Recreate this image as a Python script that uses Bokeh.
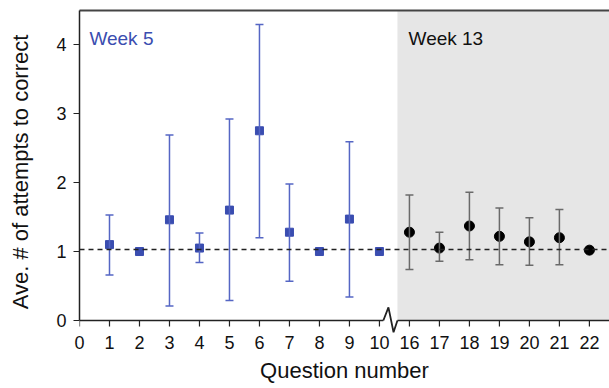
from bokeh.plotting import figure
from bokeh.models import (ColumnDataSource, Whisker, TeeHead, BoxAnnotation, Span,
                          Label, LinearAxis, Range1d, FixedTicker)
from bokeh.embed import file_html
from bokeh.resources import INLINE

# ---- data ----
week5_q = [1, 2, 3, 4, 5, 6, 7, 8, 9, 10]
week5_mean = [1.10, 1.00, 1.46, 1.05, 1.60, 2.75, 1.28, 1.00, 1.47, 1.00]
week5_upper = [1.53, None, 2.69, 1.27, 2.92, 4.29, 1.98, None, 2.59, None]
week5_lower = [0.66, None, 0.21, 0.84, 0.29, 1.20, 0.57, None, 0.34, None]

week13_q = [16, 17, 18, 19, 20, 21, 22]
week13_mean = [1.28, 1.05, 1.37, 1.22, 1.14, 1.20, 1.02]
week13_upper = [1.82, 1.28, 1.86, 1.63, 1.49, 1.61, None]
week13_lower = [0.74, 0.86, 0.88, 0.81, 0.80, 0.81, None]

tick_labels = ["0", "1", "2", "3", "4", "5", "6", "7", "8", "9", "10",
               "16", "17", "18", "19", "20", "21", "22"]
y_ticks = [0, 1, 2, 3, 4]
baseline = 1.03

# question number -> axis position (axis break between 10 and 16)
def pos(q):
    return q if q <= 10 else q - 5

X_END = 17.67
Y_TOP = 4.493
Y_BOTTOM = -0.188   # a little room below y=0 for ticks and the axis-break mark
BREAK_L, BREAK_R = 10.13, 10.6
TICK_LEN = 0.087    # ~6 px

FONT = "Liberation Sans"
BLUE = "#3a4db0"
BLUE_BAR = "#5566c4"
GRAY_BAR = "#6a6a6a"
AXIS = "#222222"

p = figure(width=609, height=388, output_backend="svg", toolbar_location=None,
           x_range=Range1d(0, X_END), y_range=Range1d(Y_BOTTOM, Y_TOP),
           min_border_left=79, min_border_right=0, min_border_top=10,
           min_border_bottom=55)
p.grid.visible = False
p.outline_line_color = None
p.background_fill_color = "white"

# shaded week 13 region
p.add_layout(BoxAnnotation(left=BREAK_R, bottom=0, fill_color="#e6e6e6", fill_alpha=1.0,
                           line_color=None, level="underlay"))

# baseline dashed line
p.add_layout(Span(location=baseline, dimension="width", line_color=AXIS,
                  line_dash="5 4", line_width=1.5))

def err_source(qs, up, lo):
    xs, us, ls = [], [], []
    for q, u, l in zip(qs, up, lo):
        if u is not None and l is not None:
            xs.append(pos(q)); us.append(u); ls.append(l)
    return ColumnDataSource(dict(x=xs, upper=us, lower=ls))

def whisker(src, color):
    return Whisker(source=src, base="x", upper="upper", lower="lower", dimension="height",
                   line_color=color, line_width=1.5, level="glyph",
                   upper_head=TeeHead(size=8, line_color=color, line_width=1.5),
                   lower_head=TeeHead(size=8, line_color=color, line_width=1.5))

p.add_layout(whisker(err_source(week5_q, week5_upper, week5_lower), BLUE_BAR))
p.add_layout(whisker(err_source(week13_q, week13_upper, week13_lower), GRAY_BAR))

p.scatter([pos(q) for q in week5_q], week5_mean, marker="square", size=8,
          fill_color=BLUE, line_color=BLUE)
p.scatter([pos(q) for q in week13_q], week13_mean, marker="circle", size=10,
          fill_color="black", line_color="black")

# x axis line (with break), tick marks and break zigzag, drawn at y = 0
tick_pos = list(range(len(tick_labels)))
p.segment(x0=[0, BREAK_R], y0=[0, 0], x1=[BREAK_L, X_END + 1], y1=[0, 0],
          line_color=AXIS, line_width=1.5)
p.segment(x0=tick_pos, y0=[0] * len(tick_pos), x1=tick_pos,
          y1=[-TICK_LEN] * len(tick_pos), line_color=AXIS, line_width=1.2)
p.line([BREAK_L, 10.3, 10.47, BREAK_R], [0, 0.19, -0.17, 0],
       line_color=AXIS, line_width=1.8)

# labels
p.add_layout(Label(x=0.33, y=4.09, text="Week 5", text_color=BLUE,
                   text_font=FONT, text_font_size="19px", text_baseline="alphabetic"))
p.add_layout(Label(x=10.97, y=4.09, text="Week 13", text_color="#111111",
                   text_font=FONT, text_font_size="19px", text_baseline="alphabetic"))

# axes styling
xa = p.xaxis[0]
xa.ticker = FixedTicker(ticks=tick_pos)
xa.major_label_overrides = {i: t for i, t in enumerate(tick_labels)}
xa.axis_label = "Question number"
xa.axis_line_color = None
xa.major_tick_line_color = None
xa.major_tick_in = 0
xa.major_tick_out = 0
xa.major_label_standoff = 2
xa.axis_label_standoff = 6

ya = p.yaxis[0]
ya.ticker = FixedTicker(ticks=y_ticks)
ya.axis_label = "Ave. # of attempts to correct"
ya.bounds = (0, Y_TOP)
ya.axis_line_color = AXIS
ya.axis_line_width = 1.5
ya.major_tick_in = 0
ya.major_tick_out = 6
ya.major_tick_line_color = AXIS
ya.major_tick_line_width = 1.2
ya.major_label_standoff = 7
ya.axis_label_standoff = 20

for ax in (xa, ya):
    ax.minor_tick_line_color = None
    ax.major_label_text_font = FONT
    ax.major_label_text_font_size = "18px"
    ax.major_label_text_color = "#111111"
    ax.axis_label_text_font = FONT
    ax.axis_label_text_font_size = "22px"
    ax.axis_label_text_font_style = "normal"
    ax.axis_label_text_color = "#111111"

# top frame line
top = LinearAxis(ticker=FixedTicker(ticks=[]), axis_line_color="#444444", axis_line_width=2,
                 major_tick_line_color=None, minor_tick_line_color=None)
p.add_layout(top, "above")

open("out.html", "w").write(file_html(p, INLINE))
